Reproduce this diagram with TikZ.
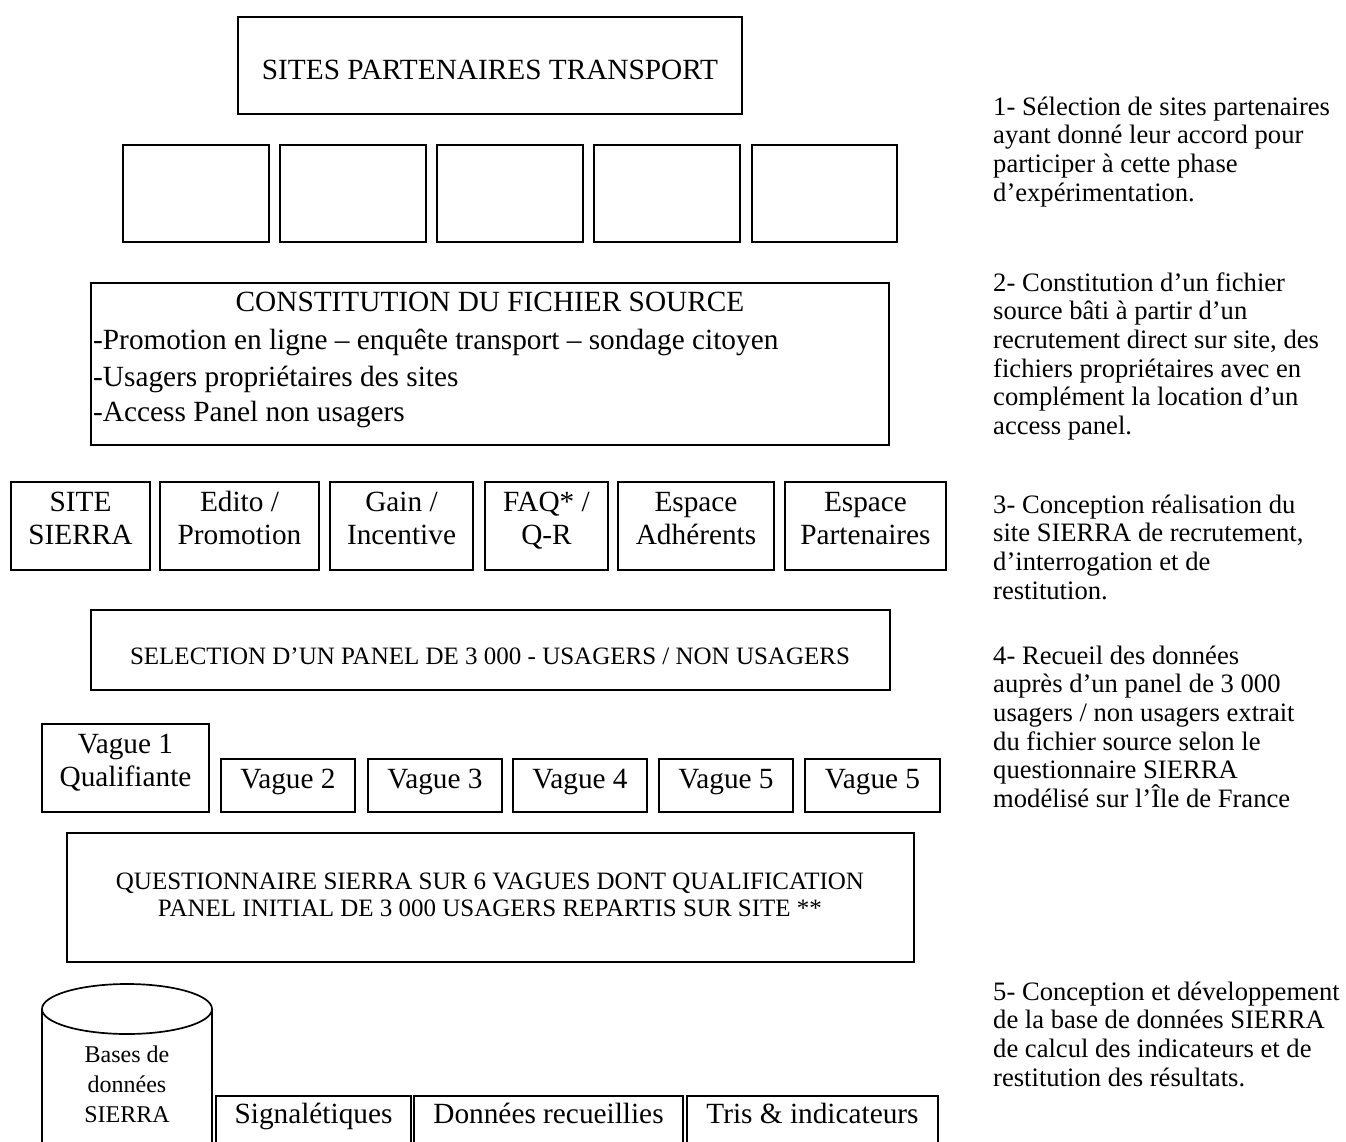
\documentclass[tikz,border=0pt]{standalone}
\usepackage{fontspec}
\setmainfont{Liberation Serif}
\usetikzlibrary{fit}
\newcommand\fA{\fontsize{29.3}{33}\selectfont}
\newcommand\fB{\fontsize{25}{28}\selectfont}
\newcommand\fR{\fontsize{26.6}{28.6}\selectfont}
\newcommand\fD{\fontsize{24}{30}\selectfont}
\begin{document}
\begin{tikzpicture}[x=1pt,y=-1pt,
  bx/.style={draw, line width=1.7pt, inner sep=0pt},
  tx/.style={inner sep=0pt, align=center, font=\fA},
  sm/.style={inner sep=0pt, align=center, font=\fB},
  rt/.style={inner sep=0pt, align=left, anchor=north west, font=\fR}]
\useasboundingbox (0,0) rectangle (1346,1142);
\clip (0,0) rectangle (1346,1142);
% title
\node[bx, fit={(238,17) (742,114)}] (title) {};
\node[tx, anchor=base] (titlet) at (490,80) {SITES PARTENAIRES TRANSPORT};
% empty partner boxes
\node[bx, fit={(123,145) (269,242)}] (p1) {};
\node[bx, fit={(280,145) (426,242)}] (p2) {};
\node[bx, fit={(437,145) (583,242)}] (p3) {};
\node[bx, fit={(594,145) (740,242)}] (p4) {};
\node[bx, fit={(752,145) (897,242)}] (p5) {};
% constitution
\node[bx, fit={(91,283) (889,445)}] (const) {};
\node[tx, anchor=base] (constt) at (490,311) {CONSTITUTION DU FICHIER SOURCE};
\node[tx, anchor=base west] (c1) at (93,349) {-Promotion en ligne – enquête transport – sondage citoyen};
\node[tx, anchor=base west] (c2) at (93,386) {-Usagers propriétaires des sites};
\node[tx, anchor=base west] (c3) at (93,421) {-Access Panel non usagers};
% site row
\node[bx, fit={(11,482) (150,570)}] (s1) {};
\node[bx, fit={(160,482) (319,570)}] (s2) {};
\node[bx, fit={(330,482) (473,570)}] (s3) {};
\node[bx, fit={(485,482) (608,570)}] (s4) {};
\node[bx, fit={(618,482) (774,570)}] (s5) {};
\node[bx, fit={(785,482) (946,570)}] (s6) {};
\node[tx] (s1t) at (80.5,521) {\strut SITE\\SIERRA\strut};
\node[tx] (s2t) at (239.5,521) {\strut Edito /\\Promotion\strut};
\node[tx] (s3t) at (401.5,521) {\strut Gain /\\Incentive\strut};
\node[tx] (s4t) at (546.5,521) {\strut FAQ* /\\Q-R\strut};
\node[tx] (s5t) at (696,521) {\strut Espace\\Adhérents\strut};
\node[tx] (s6t) at (865.5,521) {\strut Espace\\Partenaires\strut};
% selection
\node[bx, fit={(91,610) (890,690)}] (sel) {};
\node[sm, anchor=base] (selt) at (490,664) {SELECTION D’UN PANEL DE 3 000 - USAGERS / NON USAGERS};
% vagues
\node[bx, fit={(42,724) (209,812)}] (v1) {};
\node[tx] (v1t) at (125.5,763) {\strut Vague 1\\Qualifiante\strut};
\node[bx, fit={(221,759) (355,812)}] (v2) {};
\node[bx, fit={(368,759) (502,812)}] (v3) {};
\node[bx, fit={(513,759) (647,812)}] (v4) {};
\node[bx, fit={(659,759) (793,812)}] (v5) {};
\node[bx, fit={(805,759) (940,812)}] (v6) {};
\node[tx, anchor=base] (v2t) at (288,788) {Vague 2};
\node[tx, anchor=base] (v3t) at (435,788) {Vague 3};
\node[tx, anchor=base] (v4t) at (580,788) {Vague 4};
\node[tx, anchor=base] (v5t) at (726,788) {Vague 5};
\node[tx, anchor=base] (v6t) at (872.5,788) {Vague 5};
% questionnaire
\node[bx, fit={(67,833) (914,962)}] (quest) {};
\node[sm, anchor=base] (q1) at (490,889) {QUESTIONNAIRE SIERRA SUR 6 VAGUES DONT QUALIFICATION};
\node[sm, anchor=base] (q2) at (490,916) {PANEL INITIAL DE 3 000 USAGERS REPARTIS SUR SITE **};
% database cylinder
\coordinate (cylc) at (127,1009);
\draw[line width=1.7pt] (cylc) ellipse [x radius=85, y radius=25];
\coordinate (cyll) at (42,1009);
\coordinate (cylr) at (212,1009);
\coordinate (cyllb) at (42,1160);
\coordinate (cylrb) at (212,1160);
\draw[line width=1.7pt] (cyll) -- (cyllb) (cylr) -- (cylrb);
\node[inner sep=0pt, align=center, font=\fD] (dbt) at (127,1086) {\strut Bases de\\données\\SIERRA\strut};
% bottom boxes
\node[bx, fit={(216,1096) (411,1160)}] (b1) {};
\node[bx, fit={(414,1096) (683,1160)}] (b2) {};
\node[bx, fit={(687,1096) (938,1160)}] (b3) {};
\node[tx, anchor=base] (b1t) at (313.5,1123) {Signalétiques};
\node[tx, anchor=base] (b2t) at (548.5,1123) {Données recueillies};
\node[tx, anchor=base] (b3t) at (812.5,1123) {Tris \& indicateurs};
% right column
\node[rt] (r1) at (993,95) {\strut 1- Sélection de sites partenaires\\ayant donné leur accord pour\\participer à cette phase\\d’expérimentation.};
\node[rt] (r2) at (993,271) {\strut 2- Constitution d’un fichier\\source bâti à partir d’un\\recrutement direct sur site, des\\fichiers propriétaires avec en\\complément la location d’un\\access panel.};
\node[rt] (r3) at (993,493) {\strut 3- Conception réalisation du\\site SIERRA de recrutement,\\d’interrogation et de\\restitution.};
\node[rt] (r4) at (993,644) {\strut 4- Recueil des données\\auprès d’un panel de 3 000\\usagers / non usagers extrait\\du fichier source selon le\\questionnaire SIERRA\\modélisé sur l’Île de France};
\node[rt] (r5) at (993,980) {\strut 5- Conception et développement\\de la base de données SIERRA\\de calcul des indicateurs et de\\restitution des résultats.};
\end{tikzpicture}
\end{document}
